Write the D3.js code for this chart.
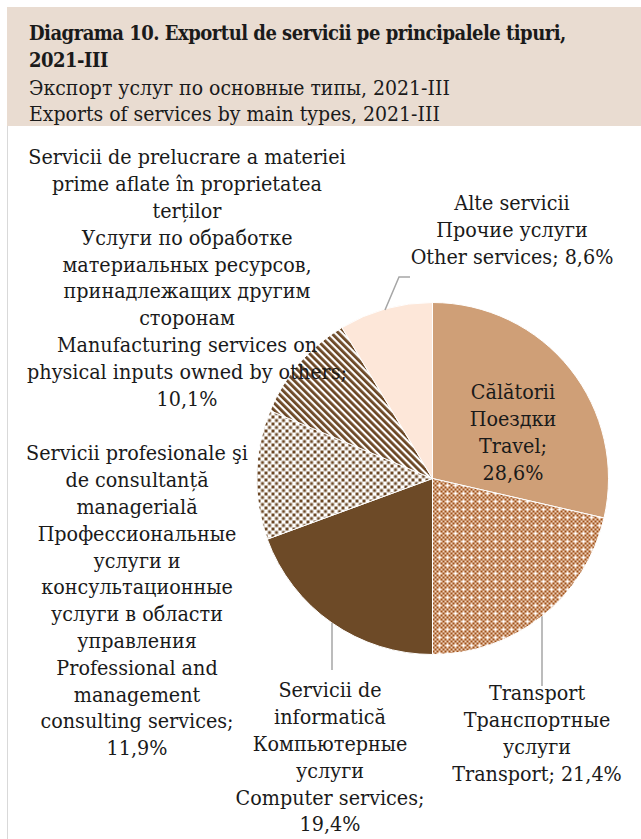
<!DOCTYPE html>
<html>
<head>
<meta charset="utf-8">
<script src="https://cdn.jsdelivr.net/npm/d3@7"></script>
<style>
  body { margin: 0; background: #fff; }
  svg text { font-family: "DejaVu Serif Condensed", "DejaVu Serif", serif; font-stretch: condensed; fill: #1a1a1a; }
</style>
</head>
<body>
<div id="chart"></div>
<script>
// Chart data
var titleLines = ["Diagrama 10. Exportul de servicii pe principalele tipuri,", "2021-III",
                  "Экспорт услуг по основные типы, 2021-III", "Exports of services by main types, 2021-III"];
var categories = ["Travel", "Transport", "Computer", "Professional", "Manufacturing", "Other"];
var shares = [28.6, 21.4, 19.4, 11.9, 10.1, 8.6];
var labelTexts = [
  ["Călătorii", "Поездки", "Travel;"],
  ["Transport", "Транспортные", "услуги", "Transport;"],
  ["Servicii de", "informatică", "Компьютерные", "услуги", "Computer services;"],
  ["Servicii profesionale şi", "de consultanță", "managerială", "Профессиональные", "услуги и",
   "консультационные", "услуги в области", "управления", "Professional and", "management",
   "consulting services;"],
  ["Servicii de prelucrare a materiei", "prime aflate în proprietatea", "terților", "Услуги по обработке",
   "материальных ресурсов,", "принадлежащих другим", "сторонам", "Manufacturing services on",
   "physical inputs owned by others;"],
  ["Alte servicii", "Прочие услуги", "Other services;"]
];
// percent goes on its own line (true) or after the last text line (false)
var pctOwnLine = [true, false, true, true, true, false];

var W = 641, H = 839;
var cx = 432.5, cy = 478.5, radius = 176;
var fontSize = 21.3, lineStep = 26.8;

// label placement: centre x, centre y of first line
var labelPos = {
  Travel: [513, 392], Transport: [537, 693], Computer: [330, 690],
  Professional: [137, 453], Manufacturing: [187, 157], Other: [512, 203]
};

var svg = d3.select("#chart").append("svg")
    .attr("width", W)
    .attr("height", H);

// Patterns
var defs = svg.append("defs");

var pTrans = defs.append("pattern").attr("id", "pat-transport")
    .attr("patternUnits", "userSpaceOnUse").attr("width", 8).attr("height", 8);
pTrans.append("rect").attr("width", 8).attr("height", 8).attr("fill", "#efd3bf");
[[0,0],[2,2],[4,0],[6,2],[0,4],[2,6],[4,4],[6,6]].forEach(function(p) {
  pTrans.append("rect").attr("x", p[0]).attr("y", p[1]).attr("width", 2).attr("height", 2).attr("fill", "#a0521a");
});
pTrans.append("rect").attr("x", 6).attr("y", 6).attr("width", 2).attr("height", 2).attr("fill", "#fff");

var pProf = defs.append("pattern").attr("id", "pat-prof")
    .attr("patternUnits", "userSpaceOnUse").attr("width", 7).attr("height", 7);
pProf.append("rect").attr("width", 7).attr("height", 7).attr("fill", "#fff");
pProf.append("rect").attr("x", 0).attr("y", 0).attr("width", 3).attr("height", 3).attr("fill", "#6b4725");
pProf.append("rect").attr("x", 3.5).attr("y", 3.5).attr("width", 3).attr("height", 3).attr("fill", "#6b4725");

var pMan = defs.append("pattern").attr("id", "pat-man")
    .attr("patternUnits", "userSpaceOnUse").attr("width", 5).attr("height", 5)
    .attr("patternTransform", "rotate(-45)");
pMan.append("rect").attr("width", 5).attr("height", 5).attr("fill", "#fff");
pMan.append("rect").attr("width", 2.8).attr("height", 5).attr("fill", "#6b4725");

var fills = {
  Travel: "#cf9f77", Transport: "url(#pat-transport)", Computer: "#6d4a27",
  Professional: "url(#pat-prof)", Manufacturing: "url(#pat-man)", Other: "#fde7d9"
};

// Header
svg.append("rect")
    .attr("x", 7).attr("y", 7).attr("width", W - 7).attr("height", 119)
    .attr("fill", "#e9dcd1");
svg.append("line")
    .attr("x1", 7.5).attr("x2", 7.5).attr("y1", 126).attr("y2", H)
    .attr("stroke", "#d9d9d9").attr("stroke-width", 1);

var titleY = [33, 60, 88, 114];
svg.selectAll(".title").data(titleLines).enter().append("text")
    .attr("class", "title")
    .attr("x", 29)
    .attr("y", function(d, i) { return titleY[i]; })
    .attr("dy", "0.35em")
    .attr("font-size", function(d, i) { return i < 2 ? 20 : 21; })
    .attr("letter-spacing", function(d, i) { return i < 2 ? -0.5 : 0; })
    .attr("font-weight", function(d, i) { return i < 2 ? "bold" : "normal"; })
    .text(function(d) { return d; });

// Pie
var pie = d3.pie().sort(null).value(function(d) { return d; });
var arcs = pie(shares);
var arc = d3.arc().innerRadius(0).outerRadius(radius);

var g = svg.append("g").attr("transform", "translate(" + cx + "," + cy + ")");
g.selectAll("path").data(arcs).enter().append("path")
    .attr("d", arc)
    .attr("fill", function(d, i) { return fills[categories[i]]; })
    .attr("stroke", "#fff")
    .attr("stroke-width", 1);

// Leader lines
function edgeY(x, sign) {
  var dx = x - cx;
  return cy + sign * Math.sqrt(radius * radius - dx * dx);
}
var leaders = [
  [[385, edgeY(385, -1) + 1], [399, 277], [410, 277]],
  [[332, edgeY(332, 1)], [332, 670]],
  [[542, edgeY(542, 1)], [542, 686]]
];
svg.selectAll(".leader").data(leaders).enter().append("path")
    .attr("class", "leader")
    .attr("d", d3.line())
    .attr("fill", "none")
    .attr("stroke", "#a6a6a6")
    .attr("stroke-width", 1.5);

// Labels
var fmt = d3.formatLocale({decimal: ",", thousands: " ", grouping: [3], currency: ["", ""]}).format(".1f");
categories.forEach(function(c, i) {
  var lines = labelTexts[i].slice();
  var pct = fmt(shares[i]) + "%";
  if (pctOwnLine[i]) lines.push(pct);
  else lines[lines.length - 1] += " " + pct;
  var pos = labelPos[c];
  svg.append("g").selectAll("text").data(lines).enter().append("text")
      .attr("x", pos[0])
      .attr("y", function(d, j) { return pos[1] + j * lineStep; })
      .attr("dy", "0.35em")
      .attr("text-anchor", "middle")
      .attr("font-size", fontSize)
      .text(function(d) { return d; });
});
</script>
</body>
</html>
